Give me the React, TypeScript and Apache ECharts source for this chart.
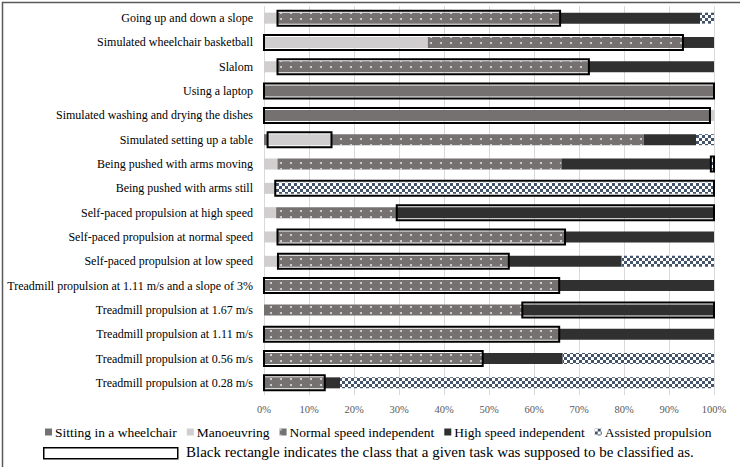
import React, { useEffect, useRef } from "react";
import * as echarts from "echarts";

const categories = [
  "Going up and down a slope",
  "Simulated wheelchair basketball",
  "Slalom",
  "Using a laptop",
  "Simulated washing and drying the dishes",
  "Simulated setting up a table",
  "Being pushed with arms moving",
  "Being pushed with arms still",
  "Self-paced propulsion at high speed",
  "Self-paced propulsion at normal speed",
  "Self-paced propulsion at low speed",
  "Treadmill propulsion at 1.11 m/s and a slope of 3%",
  "Treadmill propulsion at 1.67 m/s",
  "Treadmill propulsion at 1.11 m/s",
  "Treadmill propulsion at 0.56 m/s",
  "Treadmill propulsion at 0.28 m/s",
];

const sitting = [0, 0, 0, 100, 99.1, 0.8, 0, 0, 0, 0, 0, 0, 0, 0, 0, 0];
const manoeuvring = [3, 36.4, 3, 0, 0.9, 14.2, 3, 2.5, 2.7, 3, 3.1, 0, 0, 0, 0, 0];
const normalSpeed = [62.8, 56.7, 69.2, 0, 0, 69.4, 63.1, 0, 26.8, 63.9, 51.3, 65.6, 57.4, 65.6, 48.6, 13.5];
const highSpeed = [31.1, 6.9, 27.8, 0, 0, 11.6, 33.2, 0, 70.5, 33.1, 25.1, 34.4, 42.6, 34.4, 17.8, 3.4];
const assisted = [3.1, 0, 0, 0, 0, 4, 0.7, 97.5, 0, 0, 20.5, 0, 0, 0, 33.6, 83.1];

// expected-class rectangles: [start %, end %] per category
const boxStart = [3, 0, 3, 0, 0, 0.8, 99.3, 2.5, 29.5, 3, 3.1, 0, 57.4, 0, 0, 0];
const boxEnd = [65.8, 93.1, 72.2, 100, 99.1, 15, 100, 100, 100, 66.9, 54.4, 65.6, 100, 65.6, 48.6, 13.5];

const xTicks = [0, 10, 20, 30, 40, 50, 60, 70, 80, 90, 100];

const seriesNames = [
  "Sitting in a wheelchair",
  "Manoeuvring",
  "Normal speed independent",
  "High speed independent",
  "Assisted propulsion",
];

export default function App() {
  const ref = useRef<HTMLDivElement>(null);
  useEffect(() => {
    if (!ref.current) return;
    const chart = echarts.init(ref.current, undefined, { renderer: "svg" });
    const font = "Liberation Serif";
    const barW = 11;
    const dotDecal = {
      symbol: "circle",
      symbolSize: 1,
      color: "rgba(255,255,255,0.75)",
      dashArrayX: [[1.2, 7.8]],
      dashArrayY: [1.2, 3.8],
      rotation: 0,
    };
    const checkDecal = {
      symbol: "rect",
      symbolSize: 1,
      color: "#44546a",
      dashArrayX: [[3, 3], [0, 3, 3, 0]],
      dashArrayY: [3, 0],
      rotation: 0,
    };
    const mk = (name: string, data: number[], color: string, decal?: any) => ({
      name,
      type: "bar",
      stack: "total",
      barWidth: barW,
      data,
      itemStyle: decal ? { color, decal } : { color },
      emphasis: { disabled: true },
    });
    const boxData = categories.map((_, i) => [i, boxStart[i], boxEnd[i]]);
    chart.setOption({
      animation: false,
      grid: { left: 264, right: 26, top: 6, bottom: 72, containLabel: false, outerBoundsMode: "none" },
      xAxis: {
        type: "value",
        min: 0,
        max: 100,
        interval: 10,
        axisLabel: {
          formatter: (v: number) => (xTicks.includes(v) ? v + "%" : ""),
          color: "#595959",
          fontFamily: font,
          fontSize: 10.5,
          margin: 9,
        },
        axisLine: { show: false },
        axisTick: { show: false },
        splitLine: { show: true, lineStyle: { color: "#d9d9d9", width: 1 } },
      },
      yAxis: {
        type: "category",
        data: categories,
        inverse: true,
        axisLine: { show: false },
        axisTick: { show: false },
        axisLabel: {
          color: "#000",
          fontFamily: font,
          fontSize: 12,
          margin: 11,
        },
      },
      legend: {
        data: seriesNames,
        top: 420,
        left: 40,
        icon: "rect",
        itemWidth: 7,
        itemHeight: 7,
        itemGap: 10,
        textStyle: { fontFamily: font, fontSize: 13.5, color: "#000", padding: [0, 0, 0, -2] },
        selectedMode: false,
      },
      graphic: [
        {
          type: "rect",
          left: 0,
          top: 0,
          shape: { width: 739, height: 466 },
          style: { fill: "none", stroke: "#595959", lineWidth: 1.5 },
          silent: true,
        },
        {
          type: "rect",
          left: 43,
          top: 447,
          shape: { width: 134, height: 11 },
          style: { fill: "#fff", stroke: "#000", lineWidth: 1.5 },
          silent: true,
        },
        {
          type: "text",
          left: 186,
          top: 444,
          style: {
            text: "Black rectangle indicates the class that a given task was supposed to be classified as.",
            fill: "#000",
            fontFamily: font,
            fontSize: 15,
          },
          silent: true,
        },
      ],
      series: [
        mk(seriesNames[0], sitting, "#767171"),
        mk(seriesNames[1], manoeuvring, "#d0cece"),
        mk(seriesNames[2], normalSpeed, "#767171", dotDecal),
        mk(seriesNames[3], highSpeed, "#303030"),
        mk(seriesNames[4], assisted, "#ffffff", checkDecal),
        {
          name: "expected",
          type: "custom",
          data: boxData,
          encode: { x: [1, 2], y: 0 },
          z: 10,
          silent: true,
          renderItem: (params: any, api: any) => {
            const idx = api.value(0);
            const p0 = api.coord([api.value(1), idx]);
            const p1 = api.coord([api.value(2), idx]);
            const h = 15;
            return {
              type: "rect",
              shape: { x: p0[0], y: p0[1] - h / 2, width: p1[0] - p0[0], height: h },
              style: { fill: "none", stroke: "#000", lineWidth: 2 },
            };
          },
        },
      ],
    });
    return () => chart.dispose();
  }, []);
  return (
    <div
      ref={ref}
      style={{ position: "fixed", left: 0, top: 0, width: 740, height: 467, background: "#fff" }}
    />
  );
}
